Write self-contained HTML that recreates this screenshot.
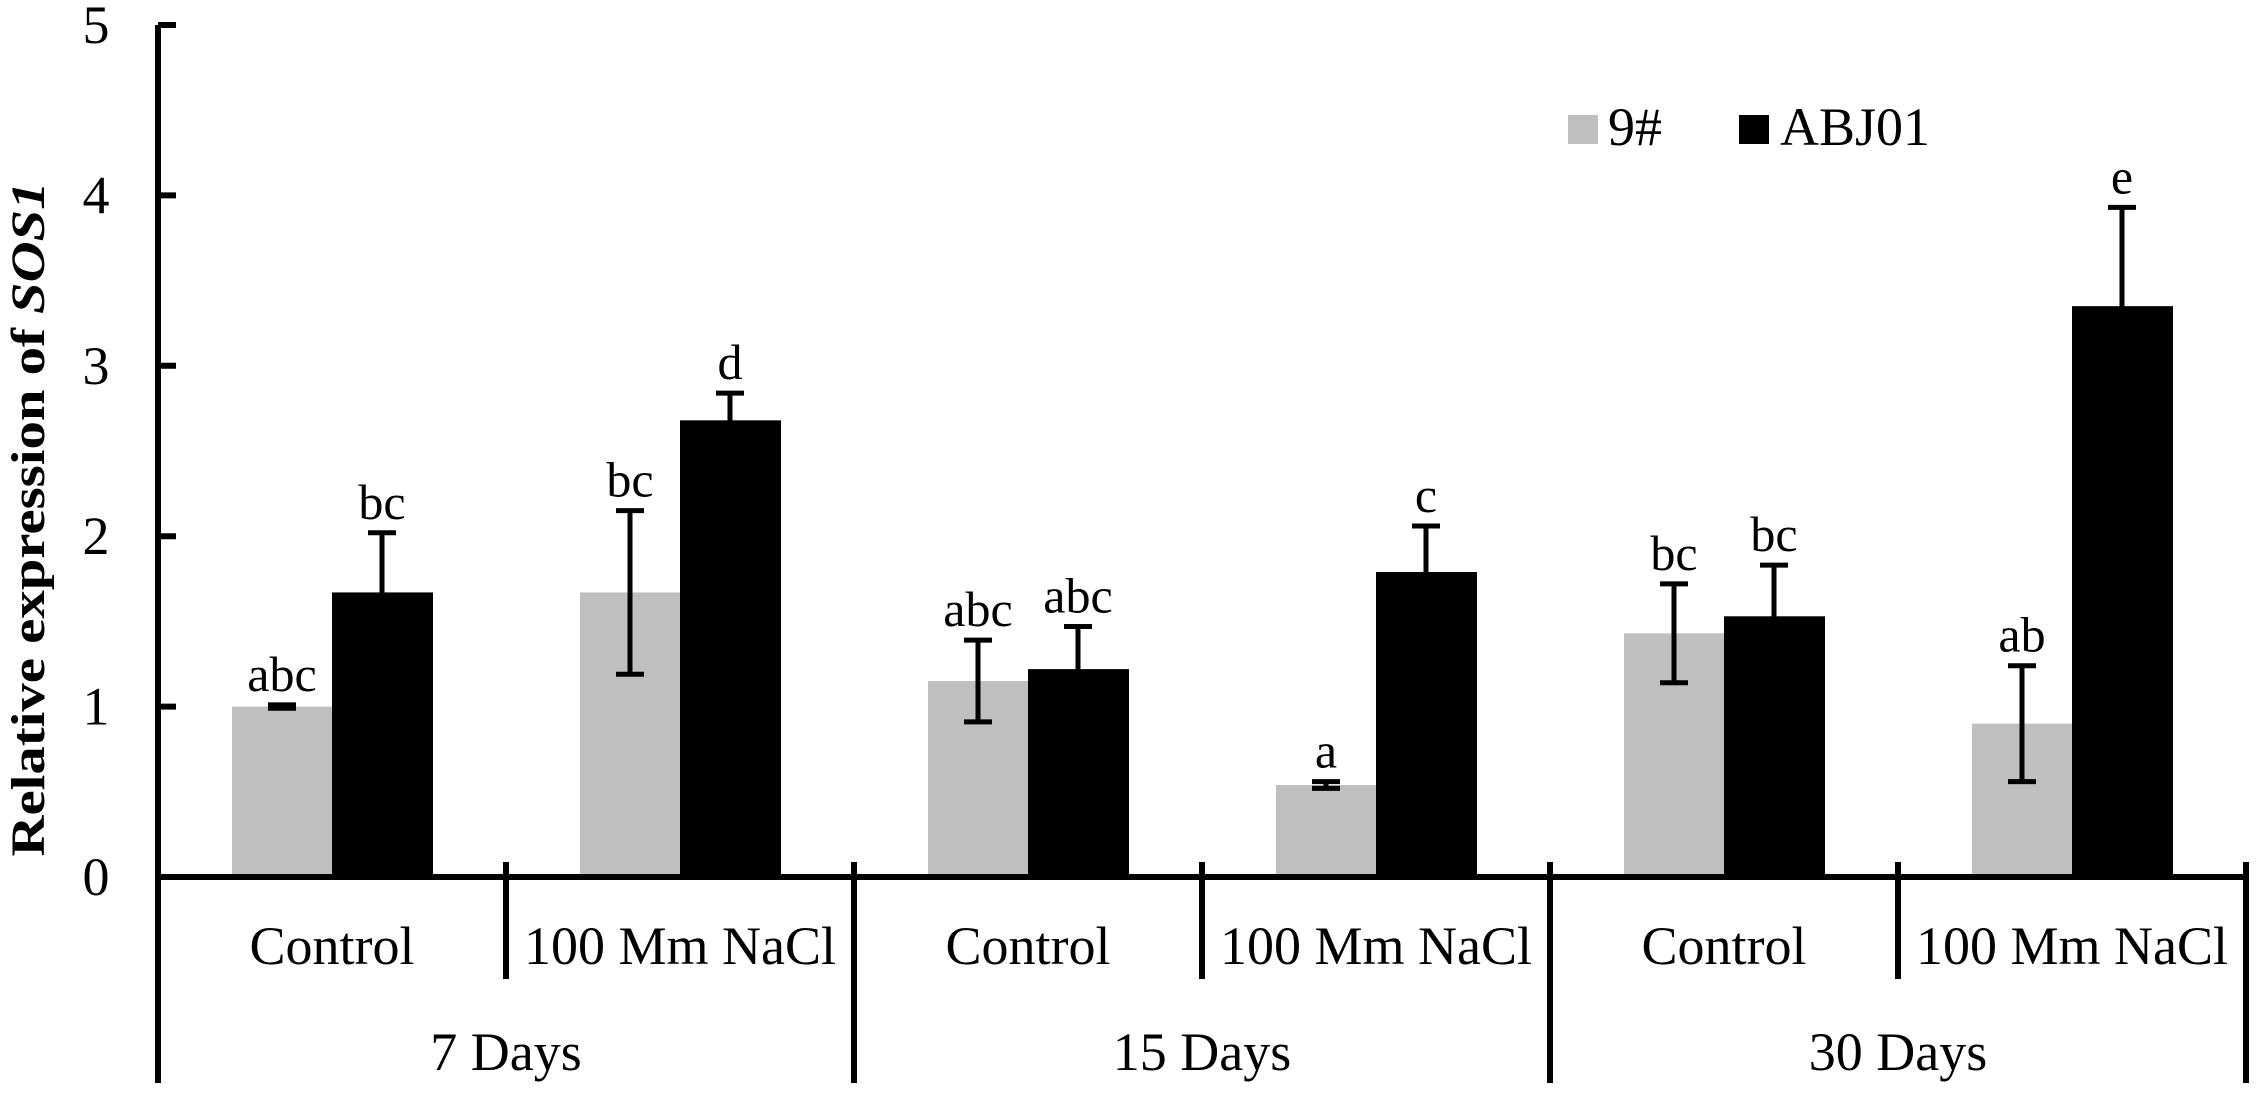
<!DOCTYPE html>
<html><head><meta charset="utf-8"><style>
html,body{margin:0;padding:0;background:#fff;}
svg{display:block;font-family:"Liberation Serif",serif;}
</style></head><body>
<svg id="chart" width="2264" height="1096" viewBox="0 0 2264 1096">
<g id="plot"></g>
</svg>
<script>
const conditions = ["Control","100 Mm NaCl","Control","100 Mm NaCl","Control","100 Mm NaCl"];
const periods = ["7 Days","15 Days","30 Days"];
const series9 = [1.00, 1.67, 1.15, 0.54, 1.43, 0.90];
const err9 = [0.01, 0.48, 0.24, 0.02, 0.29, 0.34];
const seriesABJ = [1.67, 2.68, 1.22, 1.79, 1.53, 3.35];
const errABJ = [0.35, 0.16, 0.25, 0.27, 0.30, 0.58];
const letters9 = ["abc","bc","abc","a","bc","ab"];
const lettersABJ = ["bc","d","abc","c","bc","e"];
const yTicks = [0,1,2,3,4,5];

const NS="http://www.w3.org/2000/svg";
const g=document.getElementById('plot');
const X0=158,X1=2246,Y0=877,Y5=25;
const catW=(X1-X0)/conditions.length;
const y=v=>Y0-(v/5)*(Y0-Y5);
const cx=i=>X0+catW*(i+0.5);
function mk(t,a,txt){const e=document.createElementNS(NS,t);for(const k in a)e.setAttribute(k,a[k]);if(txt!==undefined)e.textContent=txt;g.appendChild(e);return e;}

// bars
conditions.forEach((c,i)=>{
  const c0=cx(i);
  const b1=mk('rect',{x:c0-100,y:y(series9[i]),width:100,height:Y0-y(series9[i]),fill:'#bfbfbf'});
  
  
  const b2=mk('rect',{x:c0,y:y(seriesABJ[i]),width:101,height:Y0-y(seriesABJ[i]),fill:'#000'});
  
  
  // error bars
  [[c0-50,series9[i],err9[i],letters9[i],'9'],[c0+50,seriesABJ[i],errABJ[i],lettersABJ[i],'abj01']].forEach(([x,v,e,l,s])=>{
    const top=y(v+e),bot=y(Math.max(0,v-e));
    const eb=mk('path',{d:`M${x},${top}V${bot}M${x-14},${top}H${x+14}M${x-14},${bot}H${x+14}`,stroke:'#000','stroke-width':5,fill:'none'});
    
    
    const lt=mk('text',{x:x,y:top-14,'text-anchor':'middle','font-size':50},l);
    
    
  });
  const cl=mk('text',{x:c0,y:964,'text-anchor':'middle','font-size':54},c);
  
  
});
periods.forEach((p,j)=>{
  const pl=mk('text',{x:X0+catW*(2*j+1),y:1070,'text-anchor':'middle','font-size':54},p);
  
  
});
// axes
const ya=mk('path',{d:`M${X0},${Y5}V1083`,stroke:'#000','stroke-width':6,fill:'none'});


const xa=mk('path',{d:`M${X0-3},${Y0}H${X1}`,stroke:'#000','stroke-width':6,fill:'none'});


yTicks.forEach(t=>{
  const tk=mk('path',{d:`M${X0},${y(t)}H${X0+18}`,stroke:'#000','stroke-width':6});
  
  
  const tl=mk('text',{x:96,y:y(t)+18,'text-anchor':'middle','font-size':54},String(t));
  
  
});
for(let i=1;i<=conditions.length;i++){
  const x=X0+catW*i;
  const long=(i%2===0);
  const sp=mk('path',{d:`M${x},862V${long?1083:979}`,stroke:'#000','stroke-width':6});
  
  
}
// y title
const yt=mk('text',{transform:'translate(44,519) rotate(-90)','text-anchor':'middle','font-size':48,'font-weight':'bold',textLength:675,lengthAdjust:'spacingAndGlyphs'});


yt.appendChild(document.createTextNode('Relative expression of '));
const it=document.createElementNS(NS,'tspan');it.setAttribute('font-style','italic');it.textContent='SOS1';yt.appendChild(it);
// legend
const lg1=mk('rect',{x:1568,y:115,width:30,height:29,fill:'#bfbfbf'});


const lt1=mk('text',{x:1608,y:145,'font-size':54},'9#');


const lg2=mk('rect',{x:1739,y:115,width:30,height:29,fill:'#000'});


const lt2=mk('text',{x:1780,y:145,'font-size':54},'ABJ01');


</script>
</body></html>
